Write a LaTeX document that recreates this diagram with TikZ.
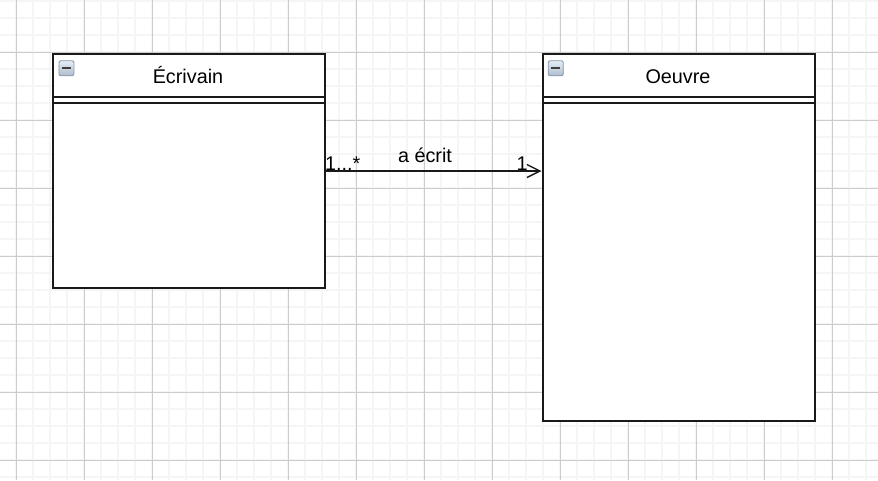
\documentclass[tikz,border=0pt]{standalone}
\usepackage{fontspec}
\setmainfont{Liberation Sans}
\usetikzlibrary{arrows.meta}
\definecolor{iconedge}{HTML}{8596AE}
\definecolor{icontop}{HTML}{E6ECF3}
\definecolor{iconbot}{HTML}{AEBCCC}
\begin{document}
\begin{tikzpicture}[x=1pt,y=-1pt,
  umlbox/.style={draw=black!90, line width=1.7pt, fill=white, inner sep=0pt, anchor=north west},
  titletext/.style={font=\fontsize{19.8}{23}\selectfont, inner sep=0pt, anchor=base},
  labeltext/.style={font=\fontsize{19.8}{23}\selectfont, inner sep=0pt},
  sepline/.style={draw=black!90, line width=1.7pt},
  iconbox/.style={draw=iconedge, line width=0.9pt, rounded corners=2pt, top color=icontop, bottom color=iconbot, minimum size=15pt, inner sep=0pt, anchor=north west},
  minorgrid/.style={draw=black!4, line width=1.2pt},
  majorgrid/.style={draw=black!20, line width=0.9pt},
  assoc/.style={draw=black!90, line width=1.4pt, -{Straight Barb[length=13pt,width=13pt]}}
]
\useasboundingbox (0,0) rectangle (878,480);
\fill[white] (0,0) rectangle (878,480);
% minor grid
\foreach \x in {-1,16,...,880} {\draw[minorgrid] (\x,0) -- (\x,480);}
\foreach \y in {1,18,...,480} {\draw[minorgrid] (0,\y) -- (878,\y);}
% major grid
\foreach \x in {16,84,...,880} {\draw[majorgrid] (\x,0) -- (\x,480);}
\foreach \y in {52,120,...,480} {\draw[majorgrid] (0,\y) -- (878,\y);}

% Écrivain
\node[umlbox, minimum width=272pt, minimum height=234pt] (ecr) at (52,53) {};
\draw[sepline] (52,97.3) -- (324,97.3);
\draw[sepline] (52,103.3) -- (324,103.3);
\node[iconbox] (ecricon) at (58.5,60.3) {};
\fill[black!75] ([xshift=3.5pt,yshift=-6.3pt]ecricon.north west) rectangle ([xshift=-3.5pt,yshift=-9pt]ecricon.north east);
\node[titletext] (ecrtitle) at (188,83.3) {Écrivain};

% Oeuvre
\node[umlbox, minimum width=272pt, minimum height=367pt] (oeu) at (542,53) {};
\draw[sepline] (542,97.3) -- (814,97.3);
\draw[sepline] (542,103.3) -- (814,103.3);
\node[iconbox] (oeuicon) at (547.8,60.3) {};
\fill[black!75] ([xshift=3.5pt,yshift=-6.3pt]oeuicon.north west) rectangle ([xshift=-3.5pt,yshift=-9pt]oeuicon.north east);
\node[titletext] (oeutitle) at (678,83.3) {Oeuvre};

% association
\coordinate (assocstart) at (324,171);
\coordinate (assocend) at (541.5,171);
\draw[assoc] (assocstart) -- (assocend);
\node[labeltext, anchor=base] (assoclbl) at (425,162.7) {a écrit};
\node[labeltext, anchor=base west] (srcmult) at (324.8,170) {1...*};
\node[labeltext, anchor=base west] (dstmult) at (516.3,170) {1};
\end{tikzpicture}
\end{document}
